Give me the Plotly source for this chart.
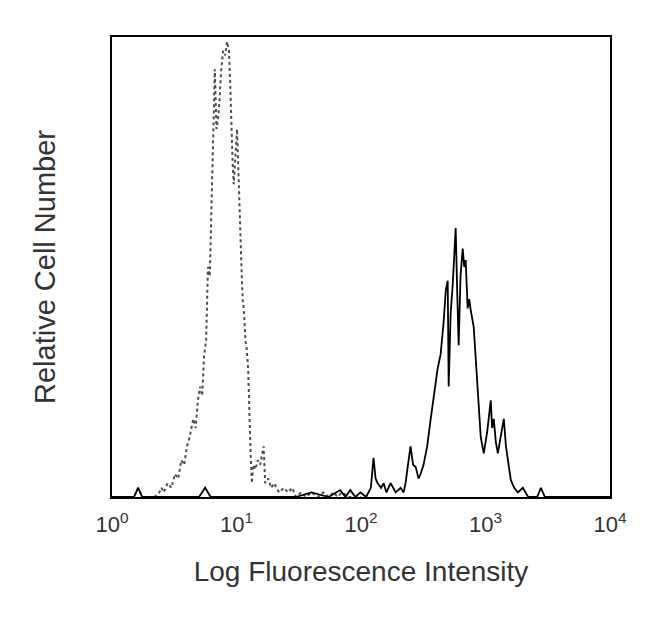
import plotly.graph_objects as go

# Control (isotype) histogram - dotted trace
ctrl_x = [1.0, 1.5, 1.62, 1.75, 2.2, 2.4, 2.5, 2.6, 2.8, 3.0, 3.2, 3.4, 3.6, 3.8, 4.0,
          4.2, 4.5, 4.7, 4.9, 5.1, 5.3, 5.5, 5.7, 5.9, 6.1, 6.3, 6.5, 6.7, 6.9, 7.1,
          7.3, 7.5, 7.8, 8.1, 8.4, 8.7, 8.9, 9.1, 9.3, 9.5, 9.8, 10.1, 10.3, 10.6,
          10.9, 11.2, 11.5, 11.8, 12.1, 12.4, 12.7, 13.0, 13.3, 13.6, 14.2, 14.8,
          15.5, 16.0, 16.5, 17.0, 18.0, 19.0, 20, 22, 24, 26, 28, 30, 33, 36, 40,
          45, 50, 55, 60, 65, 70, 80, 100]
ctrl_y = [0, 0, 2, 0, 0, 1, 2, 1, 3, 2, 5, 4, 8, 7, 11,
          13, 17, 15, 21, 24, 22, 31, 34, 50, 48, 66, 78, 93, 80, 82,
          86, 92, 97, 96, 99, 97, 90, 80, 73, 68, 74, 80, 73, 60,
          52, 43, 40, 34, 32, 28, 15, 9, 3, 7, 6, 8,
          7, 9, 11, 3, 4, 2, 3, 1, 2, 1, 2, 0, 1, 0, 1,
          0, 1, 0, 1, 0, 1, 0, 0]

# Stained sample histogram - solid trace
samp_x = [1.0, 1.5, 1.62, 1.75, 5.0, 5.6, 6.2, 30, 40, 55, 68, 75, 82, 90, 99, 110,
          120, 126, 131, 136, 145, 152, 160, 173, 190, 208, 220, 228, 237, 244, 250,
          262, 275, 290, 301, 318, 340, 363, 390, 413, 436, 461, 480, 497, 506, 525,
          545, 560, 576, 592, 609, 630, 656, 675, 693, 719, 740, 761, 804, 835, 866,
          890, 916, 968, 1030, 1102, 1130, 1165, 1210, 1256, 1330, 1403, 1460, 1511,
          1597, 1700, 1819, 1995, 2200, 2600, 2786, 3000, 10000]
samp_y = [0, 0, 2, 0, 0, 2, 0, 0, 1, 0, 1.5, 0, 1.5, 0, 1, 0,
          2, 8.5, 4, 3, 2, 3, 1, 3, 1, 2, 1, 3, 6.5, 9, 11,
          7, 6.5, 4, 5, 7, 11, 17, 23, 28, 31, 38, 45, 47, 24, 40,
          46, 52, 58.5, 45, 33, 48, 54, 50, 51.5, 41, 43, 40.6, 37, 30, 24,
          18, 13, 9.5, 14, 21, 15, 17, 12, 9.5, 13, 17, 11, 8,
          3.7, 2, 1, 2, 0, 0, 2, 0, 0]

tick_vals = [1, 10, 100, 1000, 10000]
tick_text = ["10<sup>0</sup>", "10<sup>1</sup>", "10<sup>2</sup>", "10<sup>3</sup>", "10<sup>4</sup>"]

fig = go.Figure()
fig.add_trace(go.Scatter(x=ctrl_x, y=ctrl_y, mode="lines",
                         line=dict(color="#4d4d4d", width=2, dash="dot")))
fig.add_trace(go.Scatter(x=samp_x, y=samp_y, mode="lines",
                         line=dict(color="black", width=1.8)))

fig.update_layout(
    width=650, height=622,
    margin=dict(l=104, r=48, t=29, b=133),
    paper_bgcolor="white", plot_bgcolor="white",
    showlegend=False,
    font=dict(family="Liberation Sans, Arial, sans-serif", color="#333333"),
)
fig.update_xaxes(
    type="log", range=[0, 4],
    tickvals=tick_vals, ticktext=tick_text,
    tickfont=dict(size=22), ticks="", ticklabelstandoff=7,
    showgrid=False, zeroline=False,
    showline=True, mirror=True, linecolor="black", linewidth=2,
    title=dict(text="Log Fluorescence Intensity", font=dict(size=28), standoff=25),
    automargin=False,
)
fig.update_yaxes(
    range=[0, 100], showticklabels=False, ticks="",
    showgrid=False, zeroline=False,
    showline=True, mirror=True, linecolor="black", linewidth=2,
    title=dict(text="Relative Cell Number", font=dict(size=29), standoff=46),
    automargin=False,
)

fig.write_html("out.html")
